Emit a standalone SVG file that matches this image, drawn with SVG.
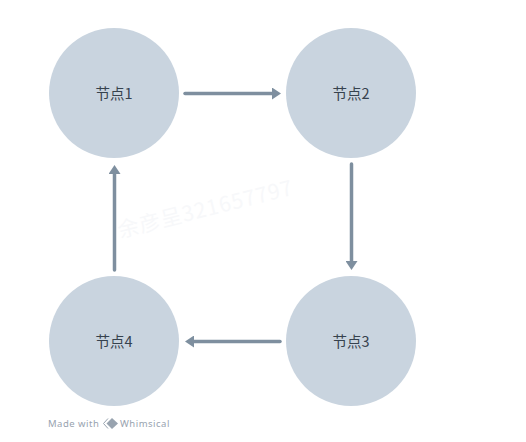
<svg xmlns="http://www.w3.org/2000/svg" width="526" height="442" viewBox="0 0 526 442">
<style>
.n{fill:#c9d4df}
.t{font-family:"Noto Sans CJK SC","Noto Sans",sans-serif;font-size:14.500px;fill:#36424e;text-anchor:middle}
.c{fill:none;stroke:#7e8f9f;stroke-width:3.500;stroke-linecap:round;marker-end:url(#a)}
.w{font-family:"Noto Sans",sans-serif;font-size:9.500px;fill:#98a3af;letter-spacing:.5px}
</style>
<defs><marker id="a" markerUnits="userSpaceOnUse" markerWidth="10" markerHeight="12" refX="0" refY="6" orient="auto"><path d="M0 0L9 6L0 12Z" fill="#7e8f9f"/></marker></defs>
<rect width="526" height="442" fill="#fff"/>
<text x="0" y="0" transform="translate(120 238) rotate(-14)" font-family="Noto Sans CJK SC,sans-serif" font-size="21" letter-spacing="1" fill="#f7f8fa">余彦呈321657797</text>
<g id="connectors">
<path class="c" d="M185 93.500H272"/>
<path class="c" d="M351.500 164V261"/>
<path class="c" d="M280 341.500H194"/>
<path class="c" d="M114.500 270V174"/>
</g>
<g id="node1"><circle class="n" cx="114" cy="93" r="65"/><text class="t" x="114" y="99">节点1</text></g>
<g id="node2"><circle class="n" cx="351" cy="93" r="65"/><text class="t" x="351" y="99">节点2</text></g>
<g id="node3"><circle class="n" cx="351" cy="341" r="65"/><text class="t" x="351" y="347">节点3</text></g>
<g id="node4"><circle class="n" cx="114" cy="341" r="65"/><text class="t" x="114" y="347">节点4</text></g>
<g id="badge">
<text class="w" x="48" y="427">Made with</text>
<path d="M108 418.500L103.500 423.500L108 428.500" fill="none" stroke="#98a3af"/>
<path d="M112 418L118 423.500L112 429L106.500 423.500Z" fill="#98a3af"/>
<text class="w" x="120" y="427">Whimsical</text>
</g>
</svg>
